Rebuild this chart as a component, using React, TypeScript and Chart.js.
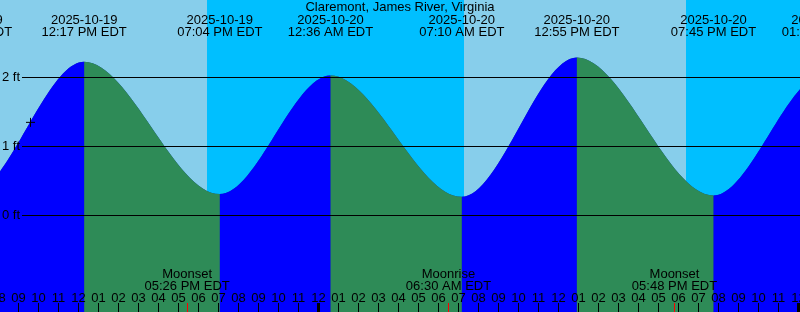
import React, { useEffect, useRef } from 'react';
import { Chart, registerables } from 'chart.js';

Chart.register(...registerables);

// ---- data (times are local EDT) ----
const TITLE = 'Claremont, James River, Virginia';
const tideTimes = [
  '2025-10-19 00:02',
  '2025-10-19 06:33',
  '2025-10-19 12:17',
  '2025-10-19 19:04',
  '2025-10-20 00:36',
  '2025-10-20 07:10',
  '2025-10-20 12:55',
  '2025-10-20 19:45',
  '2025-10-21 01:18',
  '2025-10-21 07:40',
];
const tideHeights = [2.1, 0.3, 2.23, 0.31, 2.03, 0.27, 2.29, 0.29, 2.05, 0.3];
const yTickValues = [0, 1, 2];
const yTickUnit = 'ft';
const nightStarts = ['2025-10-19 18:25', '2025-10-20 18:22'];
const nightEnds = ['2025-10-20 07:17', '2025-10-21 07:19'];
const moonNames = ['Moonset', 'Moonrise', 'Moonset'];
const moonTimes = ['2025-10-19 17:26', '2025-10-20 06:30', '2025-10-20 17:48'];
const markTimes = ['2025-10-19 09:36'];
const markHeights = [1.35];
const viewStartHours = 8.075; // hours after 2025-10-19 00:00
const viewEndHours = 48.075;
const yMinFt = -1.39855;
const yMaxFt = 3.12319;

// ---- styling ----
const DAY = '#87CEEB';
const NIGHT = '#00BFFF';
const FLOOD = '#0000FF';
const EBB = '#2E8B57';
const FONT = '13px "Liberation Sans", Arial, sans-serif';

const pad = (n: number) => (n < 10 ? '0' + n : '' + n);

function toHours(s: string): number {
  const [d, t] = s.split(' ');
  const day = parseInt(d.slice(8, 10), 10) - 19;
  const [hh, mm] = t.split(':').map(Number);
  return day * 24 + hh + mm / 60;
}
function clock12(s: string): string {
  const t = s.split(' ')[1];
  const [hh, mm] = t.split(':').map(Number);
  const ap = hh < 12 ? 'AM' : 'PM';
  const h = hh % 12 === 0 ? 12 : hh % 12;
  return `${pad(h)}:${pad(mm)} ${ap} EDT`;
}

const bgPlugin = {
  id: 'dayNight',
  beforeDatasetsDraw(chart: any) {
    const { ctx, chartArea: a, scales } = chart;
    const x = scales.x;
    ctx.save();
    ctx.fillStyle = DAY;
    ctx.fillRect(a.left, a.top, a.right - a.left, a.bottom - a.top);
    ctx.fillStyle = NIGHT;
    nightStarts.forEach((s, i) => {
      const x0 = Math.round(x.getPixelForValue(toHours(s)));
      const x1 = Math.round(x.getPixelForValue(toHours(nightEnds[i])));
      ctx.fillRect(x0, a.top, x1 - x0, a.bottom - a.top);
    });
    ctx.restore();
  },
};

const overlayPlugin = {
  id: 'overlay',
  afterDatasetsDraw(chart: any) {
    const { ctx, chartArea: a, scales } = chart;
    const x = scales.x;
    const y = scales.y;
    ctx.save();
    ctx.font = FONT;
    ctx.fillStyle = '#000';
    ctx.strokeStyle = '#000';
    ctx.lineWidth = 1;

    // horizontal height lines and labels
    yTickValues.forEach((v) => {
      const py = Math.floor(y.getPixelForValue(v)) + 0.5;
      ctx.beginPath();
      ctx.moveTo(22, py);
      ctx.lineTo(a.right, py);
      ctx.stroke();
      ctx.textAlign = 'left';
      ctx.textBaseline = 'alphabetic';
      ctx.fillText(`${v} ${yTickUnit}`, 2, Math.round(py + 3.5));
    });

    // title
    ctx.textAlign = 'center';
    ctx.textBaseline = 'alphabetic';
    ctx.fillText(TITLE, (a.left + a.right) / 2, 11);

    // tide event labels
    tideTimes.forEach((s) => {
      const px = x.getPixelForValue(toHours(s));
      ctx.fillText(s.split(' ')[0], px, 24);
      ctx.fillText(clock12(s), px, 36);
    });

    // moon labels
    moonTimes.forEach((s, i) => {
      const px = x.getPixelForValue(toHours(s));
      ctx.fillText(moonNames[i], px, 278);
      ctx.fillText(clock12(s), px, 290);
    });

    // hour labels & ticks
    for (let h = Math.floor(viewStartHours); h <= Math.ceil(viewEndHours); h++) {
      const px = Math.floor(x.getPixelForValue(h)) + 0.5;
      const h12 = h % 12 === 0 ? 12 : h % 12;
      ctx.fillStyle = '#000';
      ctx.fillText(pad(h12), px, 302);
      if (h % 24 === 0) {
        ctx.fillRect(px - 1.5, 303, 3, a.bottom - 303);
      } else {
        ctx.fillRect(px - 0.5, 303, 1, a.bottom - 303);
      }
    }
    ctx.fillStyle = '#FF0000';
    moonTimes.forEach((s) => {
      const px = Math.floor(x.getPixelForValue(toHours(s)));
      ctx.fillRect(px, 303, 1, a.bottom - 303);
    });
    ctx.restore();
  },
};

export default function App() {
  const ref = useRef<HTMLCanvasElement | null>(null);

  useEffect(() => {
    if (!ref.current) return;
    const tidePoints = tideTimes.map((s, i) => ({ x: toHours(s), y: tideHeights[i] }));
    const markPoints = markTimes.map((s, i) => ({ x: toHours(s), y: markHeights[i] }));
    const chart = new Chart(ref.current, {
      type: 'line',
      data: {
        datasets: [
          {
            data: markPoints,
            showLine: false,
            pointStyle: 'cross',
            pointRadius: 4.5,
            pointBorderColor: '#000',
            pointBorderWidth: 1,
            pointBackgroundColor: '#000',
          } as any,
          {
            data: tidePoints,
            fill: 'start',
            borderColor: 'transparent',
            borderWidth: 0,
            pointRadius: 0,
            backgroundColor: FLOOD,
            cubicInterpolationMode: 'monotone',
            segment: {
              backgroundColor: (c: any) => (c.p1.parsed.y > c.p0.parsed.y ? FLOOD : EBB),
            },
          } as any,
          {
            // solid underlay so no seams show between flood/ebb fills
            data: tidePoints,
            fill: 'start',
            borderColor: 'transparent',
            borderWidth: 0,
            pointRadius: 0,
            backgroundColor: '#173F9F',
            cubicInterpolationMode: 'monotone',
          } as any,
        ],
      },
      options: {
        animation: false,
        responsive: false,
        maintainAspectRatio: false,
        devicePixelRatio: 1,
        layout: { padding: 0, autoPadding: false },
        events: [],
        scales: {
          x: { type: 'linear', display: false, min: viewStartHours, max: viewEndHours },
          y: { type: 'linear', display: false, min: yMinFt, max: yMaxFt },
        },
        plugins: {
          legend: { display: false },
          tooltip: { enabled: false },
        },
      },
      plugins: [bgPlugin, overlayPlugin],
    });
    return () => chart.destroy();
  }, []);

  return (
    <div style={{ position: 'absolute', left: 0, top: 0, width: 800, height: 312 }}>
      <canvas ref={ref} width={800} height={312} style={{ display: 'block' }} />
    </div>
  );
}
